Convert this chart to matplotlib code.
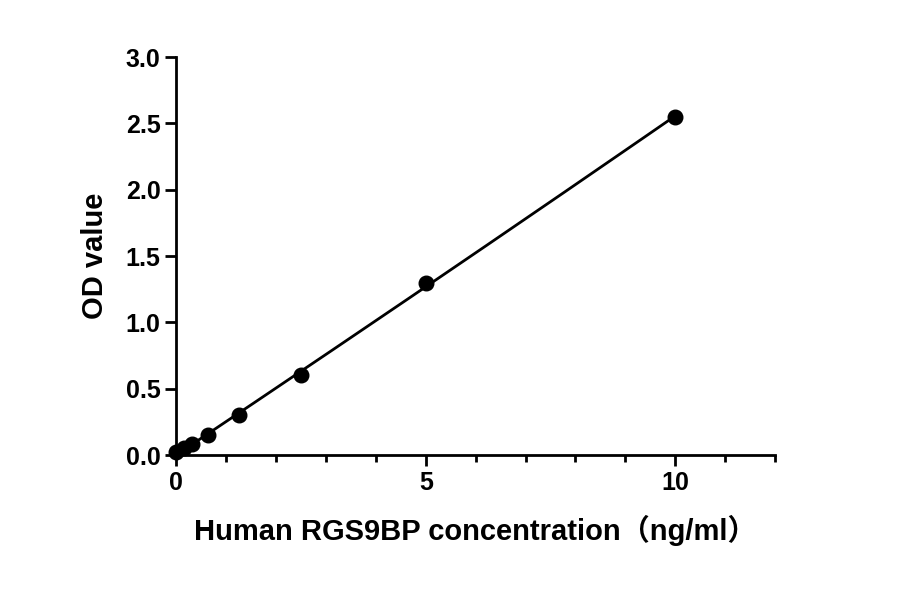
import numpy as np
import matplotlib
matplotlib.use("Agg")
import matplotlib.pyplot as plt
from matplotlib.ticker import MultipleLocator

conc = [0, 0.156, 0.3125, 0.625, 1.25, 2.5, 5, 10]
od = [0.02, 0.05, 0.08, 0.15, 0.30, 0.60, 1.30, 2.55]

plt.rcParams['font.family'] = ['Liberation Sans', 'Noto Sans CJK SC', 'DejaVu Sans']
fig = plt.figure(figsize=(9, 5.94), dpi=100)
ax = fig.add_axes([0.196, 0.234, 0.665, 0.67])
coef = np.polyfit(conc, od, 2)
xs = np.linspace(0, 10, 200)
ax.plot(xs, np.polyval(coef, xs), color='black', lw=2)
ax.scatter(conc, od, s=110, color='black', zorder=3, clip_on=False)
ax.set_xlim(0, 12)
ax.set_ylim(0, 3)
ax.xaxis.set_major_locator(MultipleLocator(5))
ax.xaxis.set_minor_locator(MultipleLocator(1))
ax.set_yticks(np.arange(0, 3.01, 0.5))
ax.set_yticklabels([f"{v:.1f}" for v in np.arange(0, 3.01, 0.5)])
for s in ['top', 'right']:
    ax.spines[s].set_visible(False)
for s in ['left', 'bottom']:
    ax.spines[s].set_linewidth(2)
ax.tick_params(which='major', width=2, length=8, labelsize=18)
ax.tick_params(which='minor', width=2, length=5)
for lab in ax.get_xticklabels() + ax.get_yticklabels():
    lab.set_fontweight('bold')
ax.set_xlabel("Human RGS9BP concentration（ng/ml）", fontsize=21, fontweight='bold', labelpad=14)
ax.set_ylabel("OD value", fontsize=21, fontweight='bold', labelpad=12)
fig.savefig("out.png", dpi=100)
